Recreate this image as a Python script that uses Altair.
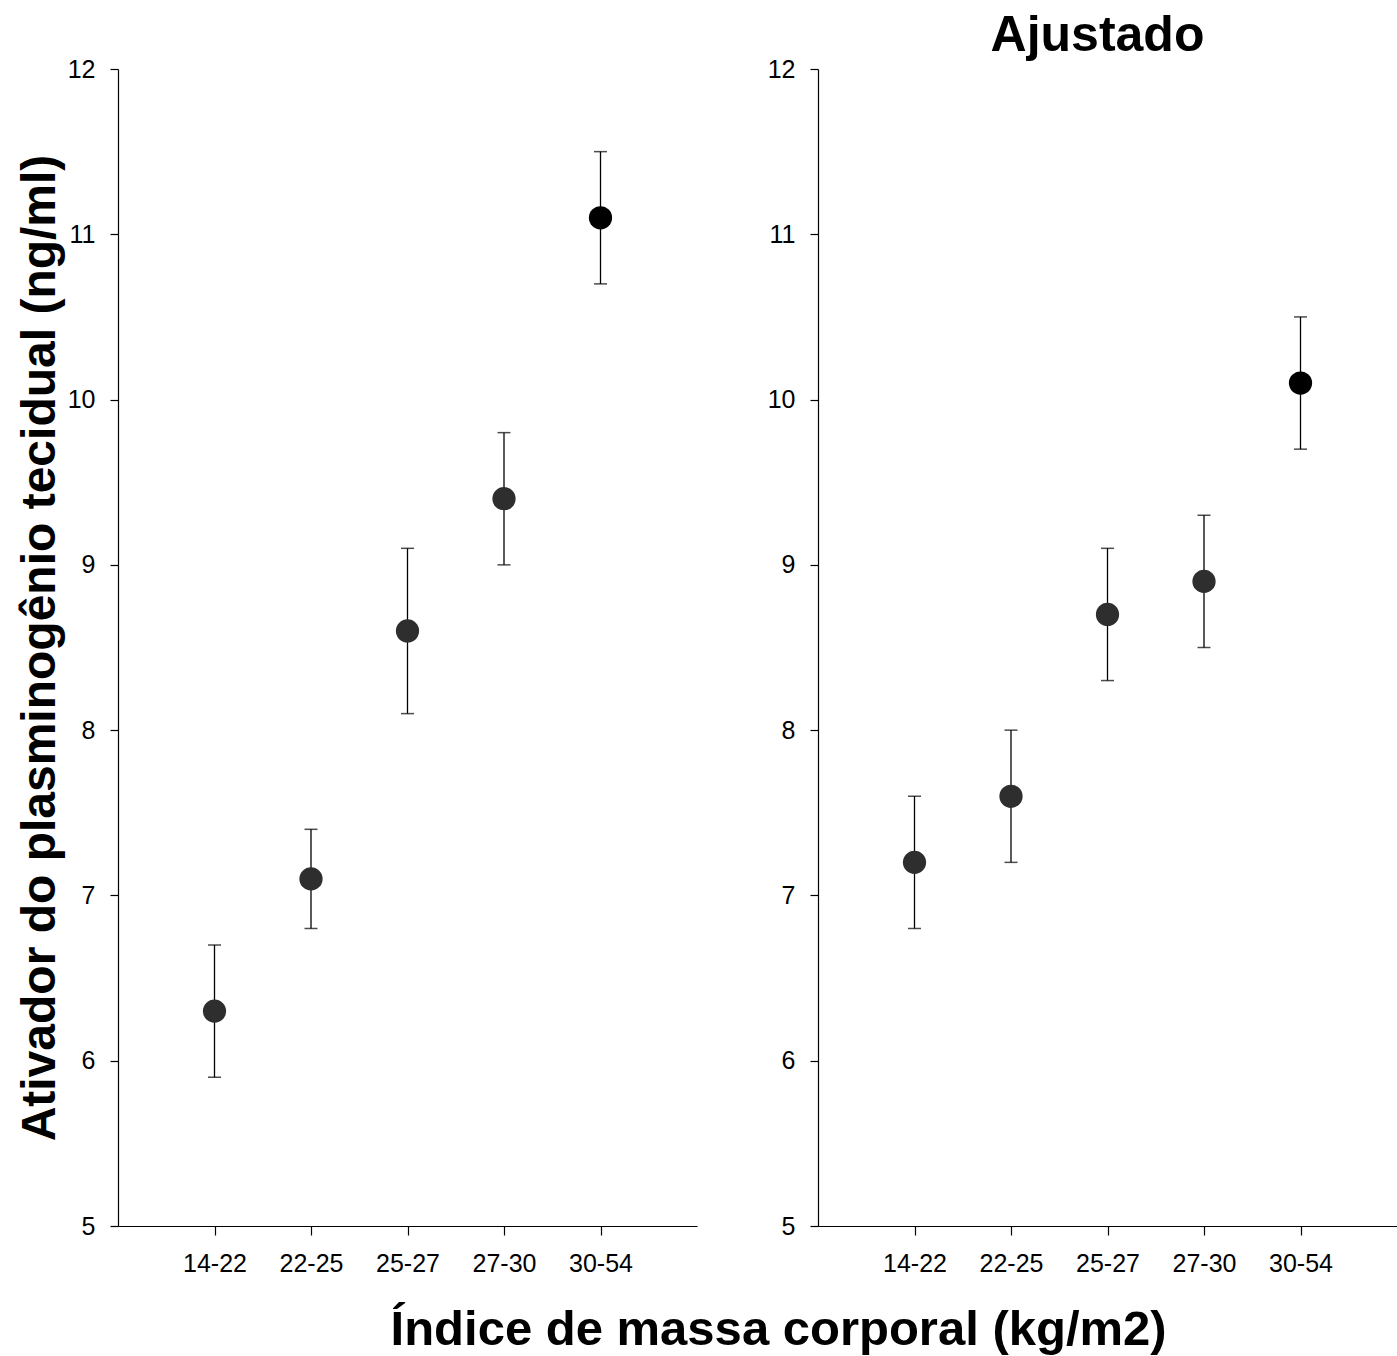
import altair as alt
import pandas as pd

categories = ["14-22", "22-25", "25-27", "27-30", "30-54"]
left_mean = [6.3, 7.1, 8.6, 9.4, 11.1]
left_low = [5.9, 6.8, 8.1, 9.0, 10.7]
left_high = [6.7, 7.4, 9.1, 9.8, 11.5]
right_mean = [7.2, 7.6, 8.7, 8.9, 10.1]
right_low = [6.8, 7.2, 8.3, 8.5, 9.7]
right_high = [7.6, 8.0, 9.1, 9.3, 10.5]
dot_colors = ["#2e2e2e", "#2e2e2e", "#2e2e2e", "#2e2e2e", "#000000"]

FONT = "Liberation Sans"
W, H = 579, 1157


def panel(mean, low, high, ytitle, title):
    df = pd.DataFrame({"cat": categories, "m": mean, "lo": low, "hi": high, "c": dot_colors})
    x = alt.X("cat:O", sort=categories,
              scale=alt.Scale(type="point", padding=1),
              axis=alt.Axis(title=None, labelAngle=0, labelFontSize=25, labelFont=FONT,
                            labelColor="black", labelPadding=16, tickSize=9, tickColor="black",
                            domainColor="black", tickWidth=1.2, domainWidth=1.2))
    axis_kw = dict(values=list(range(5, 13)), format="d", labelFontSize=25, labelFont=FONT,
                   labelColor="black", tickSize=8, tickColor="black", domainColor="black",
                   grid=False, labelPadding=15, tickWidth=1.2, domainWidth=1.2)
    if ytitle:
        yax = alt.Axis(title=ytitle, titleFontSize=48, titleFont=FONT, titleFontWeight="bold",
                       titleColor="black", titlePadding=3, **axis_kw)
    else:
        yax = alt.Axis(title=None, **axis_kw)
    y = alt.Y("lo:Q", scale=alt.Scale(domain=[5, 12], nice=False, zero=False), axis=yax)
    base = alt.Chart(df)
    rule = base.mark_rule(color="black", strokeWidth=1.3).encode(x=x, y=y, y2="hi:Q")
    cap_lo = base.mark_tick(color="black", size=13, thickness=1.5).encode(x=x, y=alt.Y("lo:Q"))
    cap_hi = base.mark_tick(color="black", size=13, thickness=1.5).encode(x=x, y=alt.Y("hi:Q"))
    dots = base.mark_circle(size=540, opacity=1).encode(
        x=x, y=alt.Y("m:Q"), color=alt.Color("c:N", scale=None))
    ch = alt.layer(rule, cap_lo, cap_hi, dots).properties(
        width=W, height=H,
        title=alt.TitleParams(text=title, fontSize=50, font=FONT, fontWeight="bold",
                              color="black", anchor="middle", offset=-4, dx=-10))
    return ch


left = panel(left_mean, left_low, left_high,
             "Ativador do plasminogênio tecidual (ng/ml)", " ")
right = panel(right_mean, right_low, right_high, None, "Ajustado")

chart = alt.hconcat(left, right, spacing=70).properties(
    title=alt.TitleParams(text="Índice de massa corporal (kg/m2)", orient="bottom",
                          anchor="middle", fontSize=49, font=FONT, fontWeight="bold",
                          color="black", dx=72, offset=30),
    padding={"left": 16, "top": 11, "right": 0, "bottom": 0},
    background="white",
).configure_view(stroke=None)

chart.save("out.html", embed_options={"renderer": "svg", "actions": False})
